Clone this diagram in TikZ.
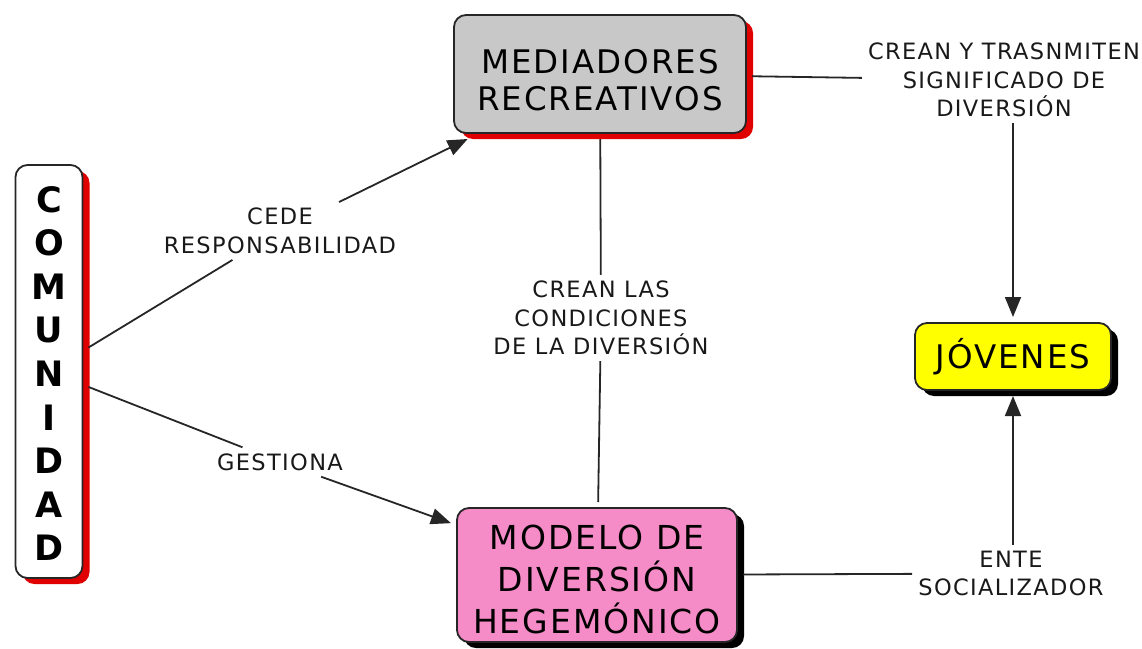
\documentclass[tikz,border=0pt]{standalone}
\usepackage{fontspec}
\setmainfont{DejaVu Sans}
\newfontfamily\boxfont[LetterSpace=6]{DejaVu Sans}
\newfontfamily\lblfont[LetterSpace=6]{DejaVu Sans}
\usetikzlibrary{arrows.meta,shadows}
\definecolor{medgray}{RGB}{200,200,200}
\definecolor{pinkfill}{RGB}{245,140,200}
\definecolor{shred}{RGB}{225,0,0}
\definecolor{jyellow}{RGB}{255,255,0}
\newcommand\bxt[3]{\raisebox{0pt}[#1][#2]{\begin{tabular}[t]{@{}c@{}}#3\end{tabular}}}
\tikzset{
  mainbox/.style={draw=black!85, line width=1.8pt, rounded corners=12pt, align=center,
    inner sep=0pt, outer sep=6pt, font=\boxfont\fontsize{32.5}{37}\selectfont},
  redsh/.style={drop shadow={shadow xshift=7pt, shadow yshift=-6pt, fill=shred, opacity=1}},
  blacksh/.style={drop shadow={shadow xshift=7pt, shadow yshift=-6pt, fill=black, opacity=1}},
  lbl/.style={font=\lblfont\fontsize{22.5}{28.5}\selectfont, align=center, inner sep=6pt, text=black!90},
  conn/.style={line width=1.8pt, draw=black!85},
  arr/.style={-{Triangle[length=20pt,width=16pt]}},
}
\begin{document}
\begin{tikzpicture}[x=1pt,y=-1pt]
\useasboundingbox (0,0) rectangle (1142,648);
% boxes
\node[mainbox, redsh, fill=white, minimum width=67pt, minimum height=413pt,
  font=\fontsize{35}{43.6}\selectfont\bfseries] (com) at (49,371.5)
  {\bxt{0pt}{319pt}{C\\O\\M\\U\\N\\I\\D\\A\\D}};
\node[mainbox, redsh, fill=medgray, minimum width=292pt, minimum height=118pt] (med) at (600,74)
  {\bxt{0pt}{2pt}{MEDIADORES\\RECREATIVOS}};
\node[mainbox, blacksh, fill=pinkfill, minimum width=280pt, minimum height=134pt,
  font=\boxfont\fontsize{33}{39}\selectfont] (mod) at (597,575)
  {\bxt{0pt}{52pt}{MODELO DE\\DIVERSIÓN\\HEGEMÓNICO}};
\node[mainbox, blacksh, fill=jyellow, minimum width=196pt, minimum height=67pt] (jov) at (1013,356.5)
  {\bxt{23pt}{0pt}{JÓVENES}};
% labels
\node[lbl] (cede) at (280,231) {CEDE\\RESPONSABILIDAD};
\node[lbl] (gest) at (280,462) {GESTIONA};
\node[lbl] (crean1) at (601,318) {CREAN LAS\\CONDICIONES\\DE LA DIVERSIÓN};
\node[lbl] (crean2) at (1004,80) {CREAN Y TRASNMITEN\\SIGNIFICADO DE\\DIVERSIÓN};
\node[lbl] (ente) at (1011,573.5) {ENTE\\SOCIALIZADOR};
% connectors
\draw[conn] (com) -- (cede);
\draw[conn,arr] (cede) -- (med);
\draw[conn] (com) -- (gest);
\draw[conn,arr] (gest) -- (mod);
\draw[conn] (med) -- (crean1);
\draw[conn] (crean1) -- (mod);
\draw[conn] (med) -- (crean2);
\draw[conn,arr] (crean2.south -| jov.north) -- (jov.north);
\draw[conn] (mod) -- (ente);
\draw[conn,arr] (ente.north -| jov.south) -- (jov.south);
\end{tikzpicture}
\end{document}
